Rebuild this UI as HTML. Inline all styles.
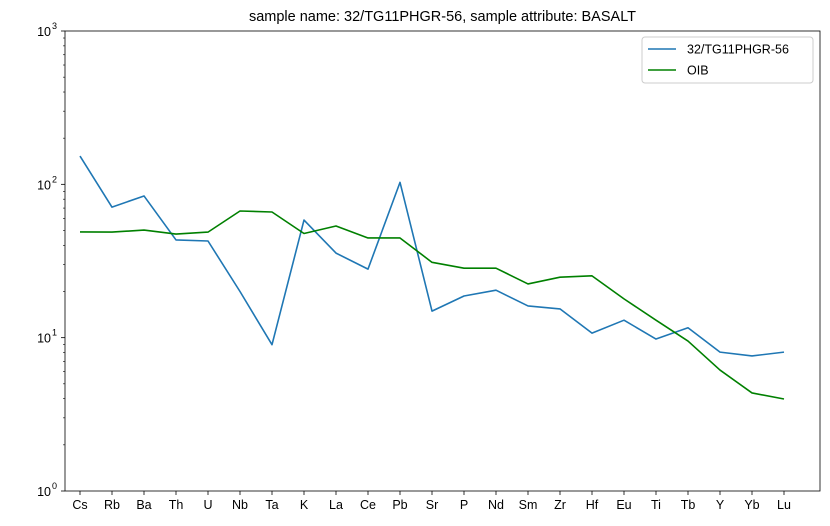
<!DOCTYPE html>
<html><head><meta charset="utf-8"><style>body{margin:0;background:#fff}svg{display:block;font-family:"Liberation Sans","DejaVu Sans",sans-serif}</style></head>
<body>
<svg id="chart" width="830" height="526" viewBox="0 0 830 526" xmlns="http://www.w3.org/2000/svg"></svg>
<script>
const categories=["Cs","Rb","Ba","Th","U","Nb","Ta","K","La","Ce","Pb","Sr","P","Nd","Sm","Zr","Hf","Eu","Ti","Tb","Y","Yb","Lu"];
const sampleValues=[153,71,84,43.4,42.7,20,9,58.5,35.6,28,103,14.9,18.7,20.4,16.1,15.4,10.7,13,9.8,11.6,8.05,7.6,8.05];
const oibValues=[48.9,48.8,50.3,47.4,48.8,67,66,47.8,53.5,44.7,44.7,31,28.4,28.4,22.4,24.8,25.3,17.9,13,9.5,6.15,4.36,3.98];
const yTicks=[1,10,100,1000];
const yTickLabels=["10","10","10","10"];
const yTickExp=["0","1","2","3"];
const NS="http://www.w3.org/2000/svg";
const svg=document.getElementById('chart');
const L=65,R=820,T=31,B=491;
const x0=80,x1=784;
function xs(i){return x0+(x1-x0)*i/(categories.length-1);}
function ys(v){return B-(Math.log10(v)-0)/3*(B-T);}
function mk(tag,attrs,parent){const e=document.createElementNS(NS,tag);for(const k in attrs)e.setAttribute(k,attrs[k]);(parent||svg).appendChild(e);return e;}
const frame=mk('rect',{x:L,y:T,width:R-L,height:B-T,fill:'none',stroke:'#000','stroke-width':0.8});


const title=mk('text',{x:(L+R)/2,y:21,'text-anchor':'middle','font-size':14.5});
title.textContent='sample name: 32/TG11PHGR-56, sample attribute: BASALT';


categories.forEach((c,i)=>{
  const x=xs(i);
  mk('line',{x1:x,x2:x,y1:B,y2:B+4,stroke:'#000','stroke-width':0.8});
  const t=mk('text',{x:x,y:B+18,'text-anchor':'middle','font-size':12.5});
  t.textContent=c;
  
  
});
for(let d=0;d<3;d++){for(let m=2;m<10;m++){const y=ys(m*Math.pow(10,d));mk('line',{x1:L-2,x2:L,y1:y,y2:y,stroke:'#000','stroke-width':0.6});}}
yTicks.forEach((v,i)=>{
  const y=ys(v);
  mk('line',{x1:L-4,x2:L,y1:y,y2:y,stroke:'#000','stroke-width':0.8});
  const t=mk('text',{x:L-14,y:y+5,'text-anchor':'end','font-size':12.5});
  t.textContent=yTickLabels[i];
  
  
  const e=mk('text',{x:L-13,y:y-2,'text-anchor':'start','font-size':9});
  e.textContent=yTickExp[i];
  
  
});
function line(vals,color,name){
  const p=mk('polyline',{points:vals.map((v,i)=>xs(i)+','+ys(v)).join(' '),fill:'none',stroke:color,'stroke-width':1.6,'stroke-linejoin':'round'});
  
  
}
line(sampleValues,'#1f77b4','sample-line');
line(oibValues,'#008000','oib-line');
const lg=mk('g',{});


mk('rect',{x:642,y:37,width:171,height:46,rx:3,fill:'#fff',stroke:'#ccc','stroke-width':1},lg);
[['32/TG11PHGR-56','#1f77b4'],['OIB','#008000']].forEach((e,i)=>{
  const y=49+i*21;
  mk('line',{x1:648,x2:676,y1:y,y2:y,stroke:e[1],'stroke-width':1.6},lg);
  const t=mk('text',{x:687,y:y+4.5,'font-size':12.5},lg);
  t.textContent=e[0];
  
  
});
</script>
</body></html>
